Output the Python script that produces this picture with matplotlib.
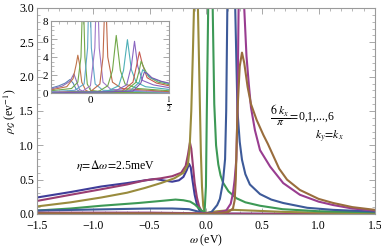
import numpy as np
import matplotlib
matplotlib.use('Agg')
import matplotlib.pyplot as plt
from matplotlib.ticker import MultipleLocator, FixedLocator

plt.rcParams['font.family'] = ['Liberation Serif', 'DejaVu Serif']
plt.rcParams['mathtext.fontset'] = 'stix'

# main panel: rho_G(omega) for 6 kx/pi = 0..6, ky = kx  (omega, rho)
c0_w = [-1.5, -1.2, -0.93, -0.7, -0.54, -0.45, -0.38, -0.3, -0.24, -0.2, -0.17, -0.15, -0.135, -0.12, -0.1, -0.08, -0.06, -0.04, -0.02, 0.0, 0.5, 1.5]
c0_r = [0.24, 0.32, 0.40, 0.45, 0.49, 0.51, 0.49, 0.47, 0.49, 0.54, 0.64, 0.73, 0.68, 0.50, 0.28, 0.14, 0.06, 0.025, 0.01, 0.005, 0.003, 0.002]

c1_w = [-1.5, -1.2, -0.93, -0.7, -0.54, -0.4, -0.3, -0.22, -0.18, -0.16, -0.142, -0.13, -0.115, -0.1, -0.08, -0.06, -0.04, -0.02, 0.0, 0.5, 1.5]
c1_r = [0.19, 0.28, 0.36, 0.43, 0.49, 0.52, 0.55, 0.6, 0.7, 0.86, 1.04, 0.95, 0.7, 0.45, 0.24, 0.11, 0.045, 0.015, 0.006, 0.003, 0.002]

c2_w = [-1.5, -1.2, -0.93, -0.7, -0.54, -0.4, -0.28, -0.2, -0.16, -0.145, -0.13, -0.115, -0.106, -0.097, -0.089, -0.08, -0.071, -0.055, -0.045, -0.035, -0.024, -0.012, 0.0, 0.1, 0.25, 0.4, 0.7, 1.0, 1.5]
c2_r = [0.11, 0.17, 0.24, 0.31, 0.38, 0.45, 0.52, 0.6, 0.72, 0.95, 1.5, 2.4, 3.0, 10.0, 40.0, 10.0, 3.0, 1.7, 0.9, 0.4, 0.12, 0.03, 0.015, 0.04, 0.06, 0.05, 0.03, 0.02, 0.01]

c3_w = [-1.5, -1.2, -0.93, -0.6, -0.4, -0.27, -0.2, -0.14, -0.1, -0.06, -0.03, -0.012, 0.0, 0.008, 0.02, 0.03, 0.04, 0.05, 0.06, 0.074, 0.09, 0.11, 0.13, 0.154, 0.2, 0.27, 0.35, 0.48, 0.68, 1.0, 1.5]
c3_r = [0.05, 0.08, 0.12, 0.16, 0.19, 0.21, 0.2, 0.18, 0.14, 0.08, 0.04, 0.03, 0.4, 1.5, 3.0, 10.0, 40.0, 10.0, 3.0, 1.6, 1.0, 0.72, 0.56, 0.45, 0.33, 0.23, 0.17, 0.12, 0.07, 0.04, 0.025]

c4_w = [-1.5, -1.0, -0.5, -0.3, -0.15, -0.08, -0.03, 0.0, 0.05, 0.1, 0.124, 0.15, 0.17, 0.18, 0.19, 0.205, 0.225, 0.245, 0.26, 0.28, 0.3, 0.32, 0.35, 0.39, 0.48, 0.58, 0.686, 0.9, 1.13, 1.5]
c4_r = [0.05, 0.065, 0.08, 0.08, 0.07, 0.04, 0.015, 0.005, 0.03, 0.13, 0.22, 0.45, 0.8, 1.5, 3.0, 10.0, 40.0, 10.0, 3.0, 1.5, 1.05, 0.79, 0.58, 0.43, 0.29, 0.21, 0.16, 0.09, 0.06, 0.035]

c5_w = [-1.5, -0.5, 0.0, 0.035, 0.1, 0.18, 0.22, 0.24, 0.255, 0.27, 0.28, 0.29, 0.3, 0.315, 0.33, 0.34, 0.36, 0.38, 0.4, 0.435, 0.48, 0.57, 0.686, 0.834, 1.0, 1.13, 1.3, 1.5]
c5_r = [0.02, 0.02, 0.01, 0.005, 0.02, 0.05, 0.15, 0.3, 0.5, 0.8, 1.5, 3.0, 10.0, 40.0, 10.0, 3.0, 2.3, 1.9, 1.55, 1.22, 0.93, 0.69, 0.45, 0.28, 0.18, 0.13, 0.08, 0.05]

c6_w = [-1.5, -0.5, 0.0, 0.1, 0.2, 0.24, 0.255, 0.265, 0.28, 0.3, 0.32, 0.34, 0.37, 0.4, 0.45, 0.51, 0.55, 0.6, 0.65, 0.72, 0.834, 1.0, 1.13, 1.3, 1.5]
c6_r = [0.01, 0.01, 0.005, 0.01, 0.03, 0.08, 0.2, 0.5, 1.5, 2.15, 2.35, 2.2, 1.85, 1.6, 1.37, 1.15, 1.02, 0.84, 0.66, 0.5, 0.35, 0.22, 0.16, 0.1, 0.06]

main_w = [c0_w, c1_w, c2_w, c3_w, c4_w, c5_w, c6_w]
main_r = [c0_r, c1_r, c2_r, c3_r, c4_r, c5_r, c6_r]
main_colors = [(0.2472, 0.24, 0.6), (0.6, 0.24, 0.442893), (0.6, 0.547014, 0.24),
               (0.24, 0.6, 0.33692), (0.24, 0.353173, 0.6), (0.6, 0.24, 0.563266),
               (0.6, 0.426641, 0.24)]

# inset curves
in_w = [
    [-0.25, -0.2, -0.16, -0.13, -0.11, -0.09, -0.06, 0.0, 0.5],
    [-0.25, -0.18, -0.13, -0.105, -0.09, -0.07, -0.04, 0.0, 0.5],
    [-0.25, -0.15, -0.11, -0.09, -0.08, -0.07, -0.055, -0.03, 0.0, 0.5],
    [-0.25, -0.12, -0.08, -0.06, -0.047, -0.035, -0.02, 0.0, 0.1, 0.5],
    [-0.25, -0.1, -0.04, -0.018, -0.006, 0.006, 0.03, 0.08, 0.5],
    [-0.25, -0.05, 0.0, 0.028, 0.042, 0.056, 0.08, 0.13, 0.5],
    [-0.25, 0.0, 0.06, 0.08, 0.095, 0.11, 0.14, 0.2, 0.5],
    [-0.25, 0.05, 0.11, 0.14, 0.164, 0.19, 0.22, 0.3, 0.5],
    [-0.25, 0.1, 0.18, 0.21, 0.235, 0.26, 0.29, 0.35, 0.5],
    [-0.25, 0.15, 0.23, 0.26, 0.28, 0.3, 0.33, 0.4, 0.5],
    [-0.25, 0.2, 0.27, 0.295, 0.311, 0.33, 0.36, 0.42, 0.5],
    [-0.25, 0.22, 0.29, 0.31, 0.322, 0.34, 0.37, 0.43, 0.5],
    [-0.25, 0.25, 0.31, 0.332, 0.35, 0.38, 0.44, 0.5],
    [-0.25, 0.27, 0.32, 0.342, 0.36, 0.39, 0.45, 0.5],
]
in_r = [
    [0.55, 0.8, 1.1, 1.5, 1.1, 0.4, 0.1, 0.02, 0.01],
    [0.45, 0.75, 1.3, 2.13, 1.4, 0.4, 0.1, 0.03, 0.01],
    [0.35, 0.7, 1.6, 3.2, 4.2, 3.3, 1.2, 0.3, 0.08, 0.02],
    [0.25, 0.5, 1.2, 4.0, 12.0, 4.0, 1.0, 0.3, 0.08, 0.03],
    [0.15, 0.3, 1.0, 5.0, 14.0, 5.0, 1.0, 0.3, 0.05],
    [0.1, 0.2, 0.8, 5.0, 14.0, 5.0, 1.2, 0.4, 0.1],
    [0.05, 0.15, 1.0, 4.0, 12.0, 4.0, 1.2, 0.5, 0.15],
    [0.03, 0.15, 0.8, 2.5, 6.4, 2.5, 1.0, 0.5, 0.25],
    [0.02, 0.15, 0.8, 2.5, 5.93, 2.6, 1.2, 0.7, 0.4],
    [0.02, 0.15, 0.9, 3.0, 5.75, 3.0, 1.4, 0.9, 0.6],
    [0.01, 0.2, 1.2, 3.2, 4.57, 3.2, 1.7, 1.1, 0.8],
    [0.01, 0.2, 1.2, 2.5, 3.54, 2.8, 1.8, 1.2, 0.95],
    [0.01, 0.2, 1.2, 2.6, 2.3, 1.7, 1.3, 1.05],
    [0.01, 0.2, 1.1, 2.3, 2.2, 1.7, 1.3, 1.1],
]
in_colors = ['#5e81b5', '#8f6fb8', '#c0744a', '#72a84a', '#5fa8c8', '#9f78c8', '#c06a4a',
             '#72a84a', '#4fb0b8', '#8a66c0', '#c85a50', '#72a84a', '#4fb0b8', '#7a5ab0']

frame_col = '#9a9a9a'


def style(ax, fs):
    for s in ax.spines.values():
        s.set_color(frame_col)
        s.set_linewidth(0.8)
    ax.tick_params(which='both', direction='in', top=True, right=True,
                   color=frame_col, labelsize=fs, pad=2)
    ax.tick_params(which='major', length=4, width=0.6)
    ax.tick_params(which='minor', length=2, width=0.5)


fig = plt.figure(figsize=(3.81, 2.49), dpi=100)
ax = fig.add_axes([0.097, 0.1406, 0.887, 0.8274])
for w, r, c in zip(main_w, main_r, main_colors):
    ax.plot(w, r, color=c, lw=1.5, solid_joinstyle='round')
ax.set_xlim(-1.5, 1.5)
ax.set_ylim(0, 3.0)
ax.xaxis.set_major_locator(MultipleLocator(0.5))
ax.xaxis.set_minor_locator(MultipleLocator(0.1))
ax.yaxis.set_major_locator(MultipleLocator(0.5))
ax.yaxis.set_minor_locator(MultipleLocator(0.1))
ax.xaxis.set_major_formatter(matplotlib.ticker.FuncFormatter(lambda v, p: ('%.1f' % v).replace('-', '\u2212')))
ax.yaxis.set_major_formatter(matplotlib.ticker.FormatStrFormatter('%.1f'))
style(ax, 8.5)
ax.tick_params(axis='x', which='major', pad=4)
ax.set_xlabel(r'$\omega$ (eV)', fontsize=8.5, labelpad=1)
ax.set_ylabel(r'$\rho_{\mathcal{G}}$ (ev$^{-1}$)', fontsize=8.5, labelpad=1)

ax.text(-0.8, 0.71, r'$\eta\!=\!\Delta\omega\!=\!$2.5meV', fontsize=8.5, ha='center', va='center')
ax.text(0.57, 1.43, r'$\dfrac{6\ k_x}{\pi}\!=\!$0,1,...,6', fontsize=8.5, ha='left', va='center')
ax.text(0.97, 1.12, r'$k_y\!=\!k_x$', fontsize=8.5, ha='left', va='center')

ins = fig.add_axes([0.134, 0.6265, 0.31, 0.289])
for w, r, c in zip(in_w, in_r, in_colors):
    ins.plot(w, r, color=c, lw=0.8)
ins.set_xlim(-0.25, 0.5)
ins.set_ylim(0, 8)
ins.xaxis.set_major_locator(FixedLocator([0, 0.5]))
ins.set_xticklabels(['0', r'$\frac{1}{2}$'])
ins.xaxis.set_minor_locator(MultipleLocator(0.05))
ins.yaxis.set_major_locator(MultipleLocator(2))
ins.yaxis.set_minor_locator(MultipleLocator(0.5))
style(ins, 8)

fig.savefig('out.png', dpi=100)
